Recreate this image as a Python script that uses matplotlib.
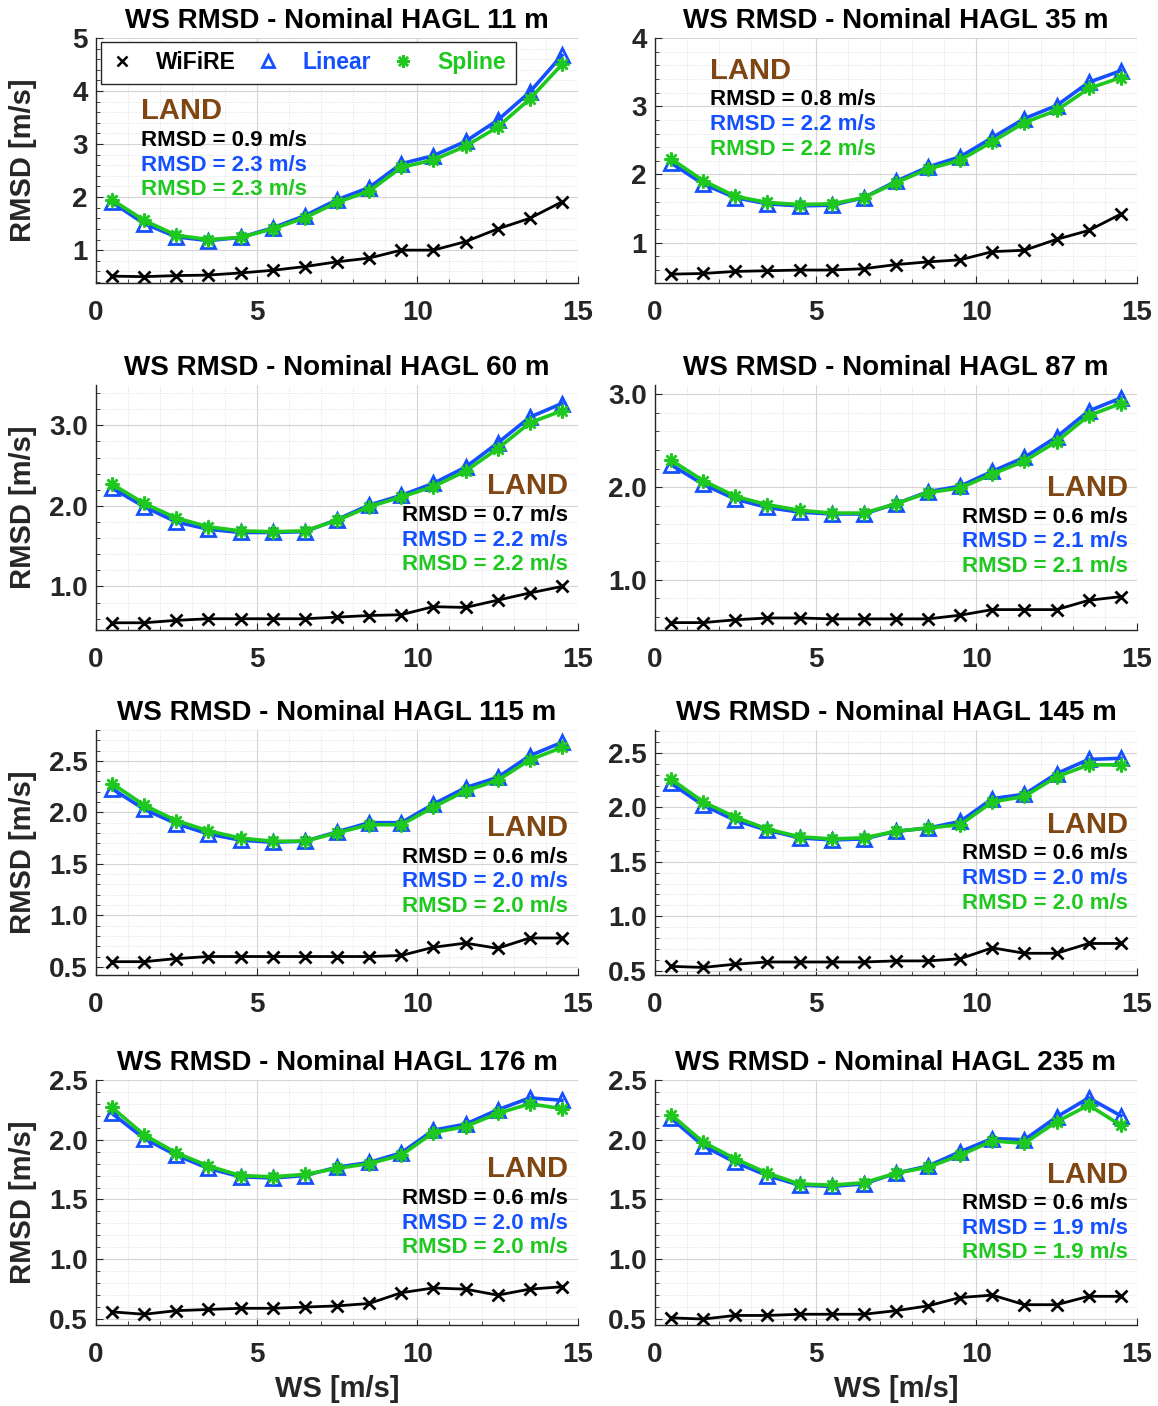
import numpy as np
import matplotlib
matplotlib.use("Agg")
import matplotlib.pyplot as plt
from matplotlib.lines import Line2D
from matplotlib.ticker import MultipleLocator, FormatStrFormatter

plt.rcParams['font.family'] = ['Liberation Sans', 'DejaVu Sans']
plt.rcParams['font.weight'] = 'bold'

ws = [0.5, 1.5, 2.5, 3.5, 4.5, 5.5, 6.5, 7.5, 8.5, 9.5, 10.5, 11.5, 12.5, 13.5, 14.5]

heights = [11, 35, 60, 87, 115, 145, 176, 235]

wifire = [
    [0.51, 0.50, 0.52, 0.53, 0.57, 0.62, 0.69, 0.78, 0.85, 1.00, 1.00, 1.16, 1.40, 1.60, 1.91],
    [0.54, 0.55, 0.58, 0.59, 0.60, 0.60, 0.62, 0.68, 0.72, 0.75, 0.87, 0.89, 1.05, 1.18, 1.42],
    [0.55, 0.55, 0.58, 0.60, 0.60, 0.60, 0.60, 0.62, 0.64, 0.65, 0.75, 0.74, 0.83, 0.92, 1.00],
    [0.54, 0.54, 0.57, 0.59, 0.59, 0.58, 0.58, 0.58, 0.58, 0.62, 0.68, 0.68, 0.68, 0.78, 0.82],
    [0.55, 0.55, 0.58, 0.60, 0.60, 0.60, 0.60, 0.60, 0.60, 0.61, 0.69, 0.73, 0.68, 0.78, 0.78],
    [0.54, 0.53, 0.56, 0.58, 0.58, 0.58, 0.58, 0.59, 0.59, 0.61, 0.71, 0.66, 0.66, 0.75, 0.75],
    [0.56, 0.54, 0.57, 0.58, 0.59, 0.59, 0.60, 0.61, 0.63, 0.72, 0.76, 0.75, 0.70, 0.75, 0.77],
    [0.51, 0.50, 0.53, 0.53, 0.54, 0.54, 0.54, 0.57, 0.61, 0.68, 0.70, 0.62, 0.62, 0.69, 0.69],
]

linear = [
    [1.90, 1.50, 1.25, 1.18, 1.24, 1.42, 1.65, 1.95, 2.18, 2.63, 2.78, 3.05, 3.45, 3.98, 4.67],
    [2.17, 1.86, 1.66, 1.57, 1.54, 1.55, 1.66, 1.90, 2.11, 2.26, 2.54, 2.82, 3.01, 3.35, 3.52],
    [2.22, 1.99, 1.80, 1.71, 1.67, 1.67, 1.68, 1.83, 2.01, 2.13, 2.28, 2.48, 2.78, 3.10, 3.27],
    [2.24, 2.03, 1.87, 1.78, 1.73, 1.71, 1.71, 1.82, 1.95, 2.01, 2.17, 2.32, 2.54, 2.82, 2.96],
    [2.23, 2.03, 1.89, 1.79, 1.73, 1.71, 1.72, 1.81, 1.90, 1.90, 2.08, 2.24, 2.34, 2.55, 2.68],
    [2.22, 2.02, 1.88, 1.79, 1.72, 1.70, 1.71, 1.78, 1.81, 1.87, 2.08, 2.12, 2.31, 2.44, 2.45],
    [2.22, 2.01, 1.87, 1.76, 1.69, 1.68, 1.70, 1.77, 1.81, 1.89, 2.08, 2.13, 2.25, 2.35, 2.33],
    [2.18, 1.95, 1.81, 1.70, 1.62, 1.61, 1.63, 1.72, 1.78, 1.90, 2.01, 2.00, 2.19, 2.35, 2.20],
]

spline = [
    [1.95, 1.56, 1.28, 1.20, 1.24, 1.40, 1.61, 1.90, 2.11, 2.56, 2.70, 2.96, 3.32, 3.85, 4.50],
    [2.23, 1.91, 1.68, 1.59, 1.56, 1.57, 1.66, 1.88, 2.08, 2.21, 2.48, 2.76, 2.94, 3.26, 3.42],
    [2.27, 2.03, 1.85, 1.74, 1.69, 1.68, 1.69, 1.82, 1.99, 2.11, 2.24, 2.43, 2.71, 3.03, 3.18],
    [2.29, 2.07, 1.90, 1.81, 1.75, 1.72, 1.72, 1.82, 1.94, 1.99, 2.14, 2.28, 2.49, 2.77, 2.90],
    [2.28, 2.07, 1.92, 1.82, 1.75, 1.72, 1.72, 1.80, 1.88, 1.88, 2.05, 2.21, 2.31, 2.51, 2.63],
    [2.26, 2.05, 1.91, 1.80, 1.73, 1.71, 1.72, 1.78, 1.81, 1.84, 2.05, 2.10, 2.28, 2.39, 2.39],
    [2.27, 2.04, 1.89, 1.78, 1.70, 1.69, 1.71, 1.76, 1.80, 1.87, 2.06, 2.11, 2.22, 2.30, 2.26],
    [2.21, 1.98, 1.84, 1.72, 1.63, 1.62, 1.64, 1.72, 1.77, 1.87, 1.99, 1.97, 2.15, 2.29, 2.12],
]

rmsd_wifire = [0.9, 0.8, 0.7, 0.6, 0.6, 0.6, 0.6, 0.6]
rmsd_linear = [2.3, 2.2, 2.2, 2.1, 2.0, 2.0, 2.0, 1.9]
rmsd_spline = [2.3, 2.2, 2.2, 2.1, 2.0, 2.0, 2.0, 1.9]

ylims = [(0.38, 5), (0.41, 4), (0.46, 3.5), (0.46, 3.1), (0.42, 2.8), (0.46, 2.71), (0.45, 2.5), (0.45, 2.5)]
ymajor = [1, 1, 1.0, 1.0, 0.5, 0.5, 0.5, 0.5]
yminor = [0.2, 0.2, 0.2, 0.2, 0.1, 0.1, 0.1, 0.1]
yfmt = ["%d", "%d", "%.1f", "%.1f", "%.1f", "%.1f", "%.1f", "%.1f"]

# text placement (axes fraction): x, ha, y of LAND, then three RMSD rows
txt_pos = [
    (0.093, 'left', 0.70, [0.58, 0.478, 0.38]),
    (0.114, 'left', 0.865, [0.747, 0.645, 0.543]),
    (0.979, 'right', 0.588, [0.469, 0.367, 0.269]),
    (0.981, 'right', 0.580, [0.461, 0.363, 0.261]),
    (0.979, 'right', 0.600, [0.478, 0.380, 0.278]),
    (0.981, 'right', 0.612, [0.494, 0.392, 0.294]),
    (0.979, 'right', 0.637, [0.518, 0.416, 0.318]),
    (0.981, 'right', 0.612, [0.494, 0.392, 0.294]),
]

BLUE = '#1450ff'
GREEN = '#1ec81e'
BROWN = '#7f4611'
AXC = '#262626'

fig = plt.figure(figsize=(11.58, 14.06), dpi=100)

lefts = [0.0829, 0.5656]
bottoms = [0.7987, 0.5519, 0.3065, 0.0576]
W, H = 0.4162, 0.1743

asterisk = (8, 2, 0)

for i in range(8):
    r, c = divmod(i, 2)
    ax = fig.add_axes([lefts[c], bottoms[r], W, H])

    ax.plot(ws, wifire[i], color='black', lw=2, marker='x', ms=8, mew=2)
    ax.plot(ws, linear[i], color=BLUE, lw=2.6, marker='^', ms=10, mew=2, mfc='none')
    ax.plot(ws, spline[i], color=GREEN, lw=2.6, marker=asterisk, ms=10, mew=1.8)

    ax.set_xlim(0, 15)
    ax.set_ylim(*ylims[i])
    ax.xaxis.set_major_locator(MultipleLocator(5))
    ax.xaxis.set_minor_locator(MultipleLocator(1))
    ax.yaxis.set_major_locator(MultipleLocator(ymajor[i]))
    ax.yaxis.set_minor_locator(MultipleLocator(yminor[i]))
    ax.yaxis.set_major_formatter(FormatStrFormatter(yfmt[i]))

    ax.grid(True, which='major', color='#d4d4d4', lw=0.8)
    ax.grid(True, which='minor', color='#dadada', lw=0.6, ls=':')
    ax.set_axisbelow(True)

    for s in ['top', 'right']:
        ax.spines[s].set_visible(False)
    for s in ['left', 'bottom']:
        ax.spines[s].set_color(AXC)
        ax.spines[s].set_linewidth(1)
    ax.tick_params(which='both', direction='in', colors=AXC, labelsize=20)
    ax.tick_params(axis='x', which='major', pad=12)
    ax.tick_params(axis='y', which='major', pad=6)
    ax.tick_params(which='major', length=5)
    ax.tick_params(which='minor', length=3)
    for lab in ax.get_xticklabels() + ax.get_yticklabels():
        lab.set_fontweight('bold')

    ax.set_title(f"WS RMSD - Nominal HAGL {heights[i]} m", fontsize=20, fontweight='bold', pad=7)
    if c == 0:
        ax.set_ylabel("RMSD [m/s]", fontsize=21, fontweight='bold', color=AXC)
        ax.yaxis.set_label_coords(-0.122, 0.5)
    if r == 3:
        ax.set_xlabel("WS [m/s]", fontsize=21, fontweight='bold', color=AXC)
        ax.xaxis.set_label_coords(0.5, -0.203)

    tx, ha, ly, rows = txt_pos[i]
    ax.text(tx, ly, "LAND", transform=ax.transAxes, ha=ha, va='center',
            fontsize=21, fontweight='bold', color=BROWN)
    ax.text(tx, rows[0], f"RMSD = {rmsd_wifire[i]:.1f} m/s", transform=ax.transAxes, ha=ha,
            va='center', fontsize=16, fontweight='bold', color='black')
    ax.text(tx, rows[1], f"RMSD = {rmsd_linear[i]:.1f} m/s", transform=ax.transAxes, ha=ha,
            va='center', fontsize=16, fontweight='bold', color=BLUE)
    ax.text(tx, rows[2], f"RMSD = {rmsd_spline[i]:.1f} m/s", transform=ax.transAxes, ha=ha,
            va='center', fontsize=16, fontweight='bold', color=GREEN)

    if i == 0:
        handles = [
            Line2D([], [], ls='none', color='black', marker='x', ms=7, mew=1.8),
            Line2D([], [], ls='none', color=BLUE, marker='^', ms=9, mew=2, mfc='none'),
            Line2D([], [], ls='none', color=GREEN, marker=asterisk, ms=9, mew=1.8),
        ]
        leg = ax.legend(handles, ["WiFiRE", "Linear", "Spline"], loc='upper left',
                        bbox_to_anchor=(0.01, 0.985), ncol=3,
                        prop={'weight': 'bold', 'size': 16.5}, frameon=True, fancybox=False,
                        edgecolor=AXC, framealpha=1, handlelength=1.0, handletextpad=1.0,
                        columnspacing=0.9, borderpad=0.42, borderaxespad=0)
        leg.get_frame().set_linewidth(1)
        for t, col in zip(leg.get_texts(), ['black', BLUE, GREEN]):
            t.set_color(col)

fig.savefig("out.png", dpi=100)
